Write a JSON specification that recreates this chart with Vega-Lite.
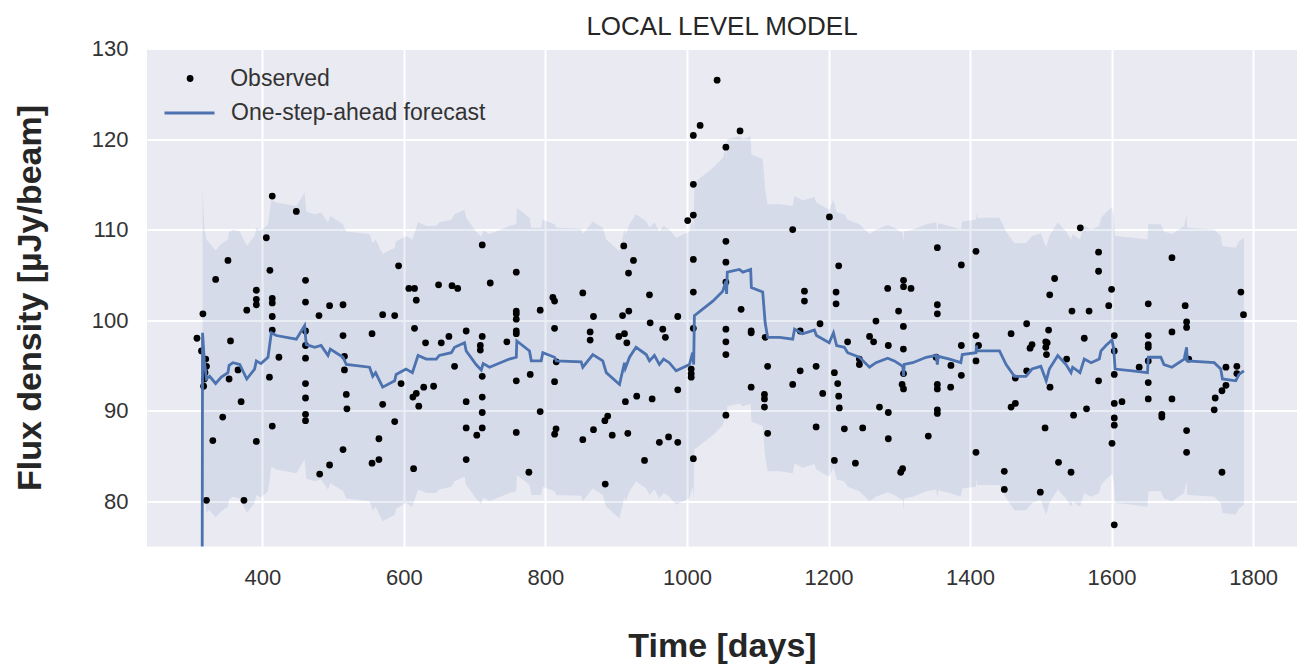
{
  "$schema": "https://vega.github.io/schema/vega-lite/v6.json",
  "autosize": {"type": "none"},
  "width": 1150,
  "height": 498,
  "padding": {"left": 147, "top": 48.5, "right": 6, "bottom": 119.5},
  "background": "white",
  "config": {
    "view": {"fill": "#EAEAF2", "stroke": null},
    "font": "Liberation Sans",
    "axis": {
      "domain": false, "ticks": false, "tickSize": 0,
      "gridColor": "white", "gridWidth": 2, "gridOpacity": 1,
      "labelFont": "Liberation Sans", "labelFontSize": 22, "labelColor": "#333333",
      "titleFont": "Liberation Sans", "titleFontSize": 34, "titleFontWeight": "bold", "titleColor": "#262626"
    },
    "legend": {
      "title": null, "orient": "none", "padding": 0, "rowPadding": 0, "labelLimit": 0,
      "labelFont": "Liberation Sans", "labelFontSize": 23, "labelColor": "#333333", "symbolOpacity": 1
    }
  },
  "title": {"text": "LOCAL LEVEL MODEL", "fontSize": 26, "fontWeight": "normal", "color": "#262626", "font": "Liberation Sans", "offset": -2, "frame": "group", "anchor": "middle"},
  "datasets": {
    "obs": [
{"t":307.6,"v":98.0},{"t":314,"v":96.6},{"t":316,"v":100.7},{"t":317,"v":92.7},{"t":318,"v":93.5},{"t":319,"v":94.2},{"t":320,"v":95.7},{"t":321,"v":94.9},{"t":321,"v":80.1},{"t":330,"v":86.7},{"t":334,"v":104.5},{"t":344,"v":89.3},{"t":351.4,"v":106.6},{"t":353,"v":93.5},{"t":355,"v":97.7},{"t":365.6,"v":94.5},{"t":370,"v":91.0},{"t":374,"v":80.1},{"t":378,"v":101.1},{"t":391.5,"v":103.3},{"t":391.5,"v":102.3},{"t":391.5,"v":101.7},{"t":391.5,"v":86.6},{"t":405.6,"v":109.1},{"t":410,"v":93.7},{"t":410.7,"v":105.5},{"t":414,"v":113.7},{"t":414,"v":102.4},{"t":414,"v":101.9},{"t":414,"v":100.4},{"t":414,"v":98.9},{"t":414,"v":88.3},{"t":423.4,"v":95.9},{"t":448,"v":112.0},{"t":461,"v":104.4},{"t":461,"v":102.0},{"t":461,"v":98.8},{"t":461,"v":97.2},{"t":461,"v":95.8},{"t":461,"v":93.0},{"t":461,"v":91.4},{"t":461,"v":89.6},{"t":461,"v":88.9},{"t":480,"v":100.5},{"t":481,"v":83.0},{"t":495,"v":101.6},{"t":495,"v":84.0},{"t":514,"v":101.7},{"t":514,"v":98.3},{"t":514,"v":85.7},{"t":516,"v":96.0},{"t":516,"v":94.5},{"t":518.6,"v":91.8},{"t":519.5,"v":90.2},{"t":555,"v":98.5},{"t":555,"v":84.2},{"t":564.7,"v":86.9},{"t":564.7,"v":84.6},{"t":570,"v":100.6},{"t":570,"v":90.7},{"t":587,"v":100.5},{"t":587,"v":88.8},{"t":592.5,"v":106.0},{"t":596,"v":93.0},{"t":607,"v":103.5},{"t":615,"v":103.5},{"t":617.5,"v":102.2},{"t":615,"v":99.1},{"t":612.7,"v":91.5},{"t":617.5,"v":91.9},{"t":621,"v":90.5},{"t":613.7,"v":83.6},{"t":628,"v":92.6},{"t":642,"v":92.7},{"t":630.6,"v":97.5},{"t":649,"v":103.9},{"t":652.8,"v":97.5},{"t":663.6,"v":98.2},{"t":668,"v":103.8},{"t":676,"v":103.5},{"t":671.6,"v":94.9},{"t":688,"v":98.8},{"t":688,"v":91.0},{"t":688,"v":88.1},{"t":688,"v":84.6},
{"t":703,"v":87.3},{"t":708,"v":97.2},{"t":708,"v":96.7},{"t":710.7,"v":108.3},{"t":710.7,"v":98.2},{"t":710.7,"v":93.8},{"t":710.7,"v":91.5},{"t":710.7,"v":89.8},{"t":710.7,"v":88.1},{"t":722,"v":104.1},{"t":745.5,"v":97.6},{"t":758.8,"v":105.3},{"t":758.8,"v":101.0},{"t":758.8,"v":100.7},{"t":758.8,"v":100.1},{"t":758.8,"v":98.8},{"t":758.8,"v":98.5},{"t":758.8,"v":93.3},{"t":758.8,"v":87.6},{"t":776.6,"v":83.2},{"t":778.5,"v":94.0},{"t":792.6,"v":101.1},{"t":792.6,"v":89.9},{"t":810.5,"v":102.5},{"t":812.9,"v":102.1},{"t":812.9,"v":99.1},{"t":815.3,"v":95.4},{"t":812.9,"v":93.2},{"t":815,"v":88.0},{"t":813,"v":87.4},{"t":852.8,"v":103.0},{"t":852.8,"v":86.8},{"t":863.2,"v":98.7},{"t":863.2,"v":97.8},{"t":867.9,"v":100.4},{"t":867.9,"v":87.9},{"t":884,"v":88.9},{"t":888,"v":89.4},{"t":894.4,"v":87.3},{"t":884.5,"v":81.9},{"t":903.7,"v":98.2},{"t":909,"v":100.5},{"t":910.7,"v":108.2},{"t":911.7,"v":98.5},{"t":913,"v":91.0},{"t":915,"v":97.5},{"t":916.4,"v":87.5},{"t":917.4,"v":105.2},{"t":917.8,"v":101.0},{"t":924.4,"v":106.6},{"t":929,"v":91.6},{"t":940,"v":84.5},{"t":947,"v":102.8},{"t":948,"v":99.7},{"t":950.8,"v":91.3},{"t":961,"v":86.5},{"t":965.8,"v":99.0},{"t":969.5,"v":98.1},{"t":974,"v":87.1},{"t":987,"v":100.4},{"t":987,"v":92.3},{"t":987,"v":86.5},{"t":1001,"v":111.0},{"t":1006,"v":94.6},{"t":1006,"v":94.1},{"t":1006,"v":93.7},{"t":1009,"v":120.4},{"t":1009,"v":115.0},{"t":1009,"v":111.6},{"t":1009,"v":106.7},{"t":1009,"v":103.1},{"t":1009,"v":99.1},{"t":1009,"v":84.7},{"t":1018.6,"v":121.5},{"t":1042.6,"v":126.5},{"t":1055,"v":119.1},{"t":1055,"v":108.7},{"t":1055,"v":106.4},{"t":1055,"v":104.2},{"t":1055,"v":99.0},{"t":1055,"v":97.6},{"t":1055,"v":96.2},{"t":1055,"v":89.5},{"t":1075,"v":120.9},{"t":1076.5,"v":101.2},{"t":1090.7,"v":98.8},{"t":1090.7,"v":98.6},{"t":1090.7,"v":92.6},{"t":1110.5,"v":98.1},{"t":1109.5,"v":91.8},{"t":1109.5,"v":91.3},{"t":1109.5,"v":90.4},{"t":1114,"v":94.9},{"t":1114,"v":87.5},
{"t":1149.4,"v":110.0},{"t":1149.4,"v":92.9},{"t":1160,"v":98.8},{"t":1160,"v":94.4},{"t":1166,"v":103.2},{"t":1166,"v":102.1},{"t":1182.5,"v":94.9},{"t":1182.5,"v":88.2},{"t":1188,"v":99.6},{"t":1191.8,"v":91.9},{"t":1201.3,"v":111.4},{"t":1208.3,"v":94.2},{"t":1208.3,"v":84.5},{"t":1210.7,"v":103.1},{"t":1210.7,"v":101.8},{"t":1213,"v":93.0},{"t":1214.4,"v":106.0},{"t":1214.4,"v":91.6},{"t":1215.3,"v":90.3},{"t":1222.4,"v":88.0},{"t":1227,"v":97.6},{"t":1238,"v":84.2},{"t":1243.6,"v":95.7},{"t":1243.6,"v":95.1},{"t":1248.3,"v":88.1},{"t":1258,"v":98.2},{"t":1263.7,"v":97.6},{"t":1267,"v":99.9},{"t":1272,"v":90.4},{"t":1283.6,"v":103.5},{"t":1284.5,"v":97.2},{"t":1284.5,"v":89.8},{"t":1284.5,"v":86.9},{"t":1299,"v":101.0},{"t":1302,"v":83.2},{"t":1304.7,"v":83.6},{"t":1304,"v":92.9},{"t":1306,"v":92.4},{"t":1306,"v":94.1},{"t":1305.8,"v":99.3},{"t":1305.8,"v":96.8},{"t":1306,"v":104.4},{"t":1306,"v":103.7},{"t":1316.6,"v":103.5},{"t":1341,"v":87.2},{"t":1352,"v":95.9},{"t":1353.8,"v":108.0},{"t":1353.8,"v":101.7},{"t":1353.8,"v":100.7},{"t":1353.8,"v":92.9},{"t":1353.8,"v":92.4},{"t":1353.8,"v":90.1},{"t":1353.8,"v":89.7},{"t":1372.6,"v":92.6},{"t":1373,"v":95.0},{"t":1387.7,"v":106.1},{"t":1387.7,"v":97.2},{"t":1387.7,"v":93.9},{"t":1408.4,"v":107.6},{"t":1408.4,"v":98.3},{"t":1408.4,"v":95.5},{"t":1408.4,"v":85.4},{"t":1412,"v":97.2},{"t":1448.4,"v":83.3},{"t":1448.4,"v":81.3},{"t":1458,"v":98.5},{"t":1458,"v":90.4},{"t":1464,"v":93.6},{"t":1464,"v":90.8},{"t":1480,"v":99.6},{"t":1480,"v":94.4},{"t":1484.8,"v":96.9},{"t":1487.6,"v":97.3},{"t":1499.3,"v":81.0},{"t":1506,"v":88.1},{"t":1507,"v":97.6},{"t":1509,"v":97.5},{"t":1507,"v":97.0},{"t":1508,"v":96.2},{"t":1511,"v":98.9},{"t":1512.6,"v":102.8},{"t":1513,"v":92.6},{"t":1519.5,"v":104.6},{"t":1525,"v":84.3},{"t":1536.5,"v":95.7},{"t":1542.7,"v":83.2},{"t":1544,"v":101.0},{"t":1546.3,"v":89.5},{"t":1555.8,"v":110.2},{"t":1561.4,"v":98.0},{"t":1564.6,"v":90.2},{"t":1568.2,"v":101.0},{"t":1581.6,"v":107.5},{"t":1581.6,"v":105.4},{"t":1581.6,"v":93.3},{"t":1596,"v":101.6},{"t":1600,"v":103.4},{"t":1600.6,"v":86.4},
{"t":1603.8,"v":98.3},{"t":1603.8,"v":96.6},{"t":1603.8,"v":94.0},{"t":1603.8,"v":90.8},{"t":1603.8,"v":89.2},{"t":1603.8,"v":88.4},{"t":1603.8,"v":77.4},{"t":1614.7,"v":91.0},{"t":1639,"v":94.8},{"t":1651.8,"v":101.8},{"t":1651.8,"v":98.3},{"t":1651.8,"v":97.3},{"t":1651.8,"v":97.0},{"t":1651.8,"v":95.5},{"t":1651.8,"v":93.1},{"t":1651.8,"v":91.3},{"t":1671,"v":89.6},{"t":1671,"v":89.3},{"t":1685.3,"v":106.9},{"t":1685.3,"v":98.7},{"t":1685.3,"v":91.3},{"t":1704,"v":101.6},{"t":1706,"v":99.8},{"t":1706,"v":99.2},{"t":1706,"v":87.8},{"t":1706,"v":85.4},{"t":1709,"v":95.7},{"t":1745,"v":90.1},{"t":1746.4,"v":91.4},{"t":1756,"v":92.2},{"t":1756,"v":83.2},{"t":1761.6,"v":92.8},{"t":1761.6,"v":94.8},{"t":1777,"v":94.9},{"t":1777,"v":94.1},{"t":1782.7,"v":103.1},{"t":1786.4,"v":100.6}
    ],
    "fc": [
{"d":313.5,"f":0},
{"d":315.5,"f":98.6,"lo":82.5,"hi":114.7},{"d":318,"f":95.5,"lo":80.7,"hi":110.2},{"d":321,"f":93.5,"lo":78.8,"hi":108.9},{"d":325.5,"f":93.8,"lo":79.0,"hi":108.5},{"d":334,"f":93.0,"lo":78.2,"hi":107.7},{"d":342,"f":93.7,"lo":78.9,"hi":108.4},{"d":351.4,"f":94.2,"lo":79.4,"hi":108.9},{"d":353,"f":95.0,"lo":80.2,"hi":109.7},{"d":358.5,"f":95.3,"lo":80.5,"hi":110.0},{"d":368,"f":95.1,"lo":80.3,"hi":109.8},{"d":378,"f":93.5,"lo":78.7,"hi":108.2},{"d":389,"f":94.6,"lo":79.8,"hi":109.3},{"d":391.5,"f":95.5,"lo":80.7,"hi":110.2},{"d":398,"f":95.2,"lo":80.4,"hi":109.9},{"d":408,"f":95.9,"lo":81.1,"hi":110.6},{"d":412.7,"f":98.6,"lo":83.8,"hi":113.3},{"d":419.7,"f":98.3,"lo":83.5,"hi":113.0},{"d":448,"f":97.9,"lo":83.1,"hi":112.6},{"d":459.7,"f":99.4,"lo":84.6,"hi":114.1},{"d":462,"f":97.3,"lo":82.5,"hi":112.0},{"d":474,"f":97.0,"lo":82.2,"hi":111.7},{"d":483,"f":97.2,"lo":82.4,"hi":111.9},{"d":492.7,"f":96.1,"lo":81.3,"hi":110.8},{"d":496,"f":96.8,"lo":82.0,"hi":111.5},{"d":514,"f":95.9,"lo":81.1,"hi":110.6},{"d":518.6,"f":95.1,"lo":80.3,"hi":109.8},{"d":551.5,"f":94.8,"lo":80.0,"hi":109.5},{"d":556,"f":93.8,"lo":79.0,"hi":108.5},{"d":560,"f":94.2,"lo":79.4,"hi":108.9},{"d":570,"f":92.6,"lo":77.8,"hi":107.3},{"d":587,"f":93.3,"lo":78.5,"hi":108.0},{"d":589,"f":94.0,"lo":79.2,"hi":108.7},{"d":603,"f":94.6,"lo":79.8,"hi":109.3},{"d":612,"f":94.2,"lo":79.4,"hi":108.9},{"d":620,"f":96.1,"lo":81.3,"hi":110.8},{"d":631.6,"f":95.7,"lo":80.9,"hi":110.4},{"d":645.8,"f":95.7,"lo":80.9,"hi":110.4},{"d":650,"f":96.1,"lo":81.3,"hi":110.8},{"d":667,"f":96.4,"lo":81.6,"hi":111.1},{"d":671.6,"f":97.0,"lo":82.2,"hi":111.7},{"d":685.7,"f":97.5,"lo":82.7,"hi":112.2},{"d":688,"f":96.6,"lo":81.8,"hi":111.3},{"d":702,"f":95.1,"lo":80.3,"hi":109.8},{"d":709.3,"f":94.5,"lo":79.7,"hi":109.2},{"d":712,"f":95.2,"lo":80.4,"hi":109.9},{"d":721,"f":94.8,"lo":80.0,"hi":109.5},{"d":749,"f":95.7,"lo":80.9,"hi":110.4},{"d":758.8,"f":95.9,"lo":81.1,"hi":110.6},{"d":759.6,"f":97.7,"lo":82.9,"hi":112.4},{"d":777.5,"f":96.6,"lo":81.8,"hi":111.3},{"d":780,"f":95.5,"lo":80.7,"hi":110.2},{"d":794,"f":95.5,"lo":80.7,"hi":110.2},{"d":796.3,"f":96.4,"lo":81.6,"hi":111.1},{"d":812.9,"f":95.9,"lo":81.1,"hi":110.6},{"d":815.3,"f":95.5,"lo":80.7,"hi":110.2},{"d":850.5,"f":95.4,"lo":80.6,"hi":110.1},{"d":852.8,"f":94.8,"lo":80.0,"hi":109.5},{"d":867,"f":96.2,"lo":81.4,"hi":110.9},{"d":881,"f":95.5,"lo":80.7,"hi":110.2},{"d":886,"f":94.2,"lo":79.4,"hi":108.9},{"d":904.7,"f":92.9,"lo":78.1,"hi":107.6},{"d":911.7,"f":95.3,"lo":80.5,"hi":110.0},{"d":913,"f":94.7,"lo":79.9,"hi":109.4},{"d":918.8,"f":95.9,"lo":81.1,"hi":110.6},{"d":928,"f":97.0,"lo":82.2,"hi":111.7},{"d":942.4,"f":96.2,"lo":81.4,"hi":110.9},{"d":947,"f":95.5,"lo":80.7,"hi":110.2},{"d":954,"f":96.1,"lo":81.3,"hi":110.8},{"d":961,"f":95.1,"lo":80.3,"hi":109.8},{"d":967,"f":95.7,"lo":80.9,"hi":110.4},{"d":975,"f":95.3,"lo":80.5,"hi":110.0},{"d":984.7,"f":94.4,"lo":79.6,"hi":109.1},{"d":1003.5,"f":95.1,"lo":80.3,"hi":109.8},{"d":1008,"f":96.4,"lo":81.6,"hi":111.1},{"d":1009.5,"f":95.1,"lo":80.3,"hi":109.8},{"d":1010.5,"f":100.5,"lo":85.7,"hi":115.2},{"d":1036.5,"f":102.1,"lo":87.3,"hi":116.8},{"d":1050.6,"f":103.2,"lo":88.4,"hi":117.9},{"d":1055,"f":104.3,"lo":89.5,"hi":119.0},{"d":1056,"f":102.9,"lo":88.1,"hi":117.6},{"d":1057,"f":105.3,"lo":90.5,"hi":120.0},{"d":1074,"f":105.6,"lo":90.8,"hi":120.3},{"d":1079,"f":105.3,"lo":90.5,"hi":120.0},{"d":1090,"f":105.6,"lo":90.8,"hi":120.3},{"d":1091,"f":103.6,"lo":88.8,"hi":118.3},{"d":1107,"f":103.1,"lo":88.3,"hi":117.8},{"d":1110.5,"f":99.7,"lo":84.9,"hi":114.4},{"d":1114,"f":98.1,"lo":83.3,"hi":112.8},{"d":1131,"f":98.1,"lo":83.3,"hi":112.8},{"d":1149.4,"f":97.9,"lo":83.1,"hi":112.6},{"d":1152,"f":99.0,"lo":84.2,"hi":113.7},{"d":1163.4,"f":98.5,"lo":83.7,"hi":113.2},{"d":1180,"f":98.9,"lo":84.1,"hi":113.6},{"d":1183,"f":98.3,"lo":83.5,"hi":113.0},{"d":1201,"f":97.5,"lo":82.7,"hi":112.2},{"d":1207,"f":98.6,"lo":83.8,"hi":113.3},{"d":1211.5,"f":97.2,"lo":82.4,"hi":111.9},{"d":1222.4,"f":97.0,"lo":82.2,"hi":111.7},{"d":1227,"f":96.4,"lo":81.6,"hi":111.1},{"d":1243.6,"f":95.9,"lo":81.1,"hi":110.6},{"d":1258,"f":94.8,"lo":80.0,"hi":109.5},{"d":1267,"f":95.3,"lo":80.5,"hi":110.0},{"d":1283.6,"f":95.8,"lo":81.0,"hi":110.5},{"d":1293,"f":95.5,"lo":80.7,"hi":110.2},{"d":1305,"f":94.9,"lo":80.1,"hi":109.6},{"d":1306,"f":93.8,"lo":79.0,"hi":108.5},{"d":1307,"f":95.1,"lo":80.3,"hi":109.8},{"d":1319,"f":95.3,"lo":80.5,"hi":110.0},{"d":1338,"f":95.9,"lo":81.1,"hi":110.6},{"d":1352,"f":96.1,"lo":81.3,"hi":110.8},{"d":1353.8,"f":95.1,"lo":80.3,"hi":109.8},{"d":1355,"f":96.0,"lo":81.2,"hi":110.7},{"d":1371,"f":95.7,"lo":80.9,"hi":110.4},{"d":1387,"f":95.3,"lo":80.5,"hi":110.0},{"d":1389,"f":96.2,"lo":81.4,"hi":110.9},{"d":1408.4,"f":96.4,"lo":81.6,"hi":111.1},{"d":1409,"f":97.2,"lo":82.4,"hi":111.9},{"d":1410,"f":96.6,"lo":81.8,"hi":111.3},{"d":1441.6,"f":96.6,"lo":81.8,"hi":111.3},{"d":1451,"f":95.1,"lo":80.3,"hi":109.8},{"d":1462.7,"f":93.8,"lo":79.0,"hi":108.5},{"d":1479,"f":93.8,"lo":79.0,"hi":108.5},{"d":1487.6,"f":94.6,"lo":79.8,"hi":109.3},{"d":1500,"f":94.9,"lo":80.1,"hi":109.6},{"d":1507.6,"f":93.3,"lo":78.5,"hi":108.0},{"d":1512,"f":94.6,"lo":79.8,"hi":109.3},{"d":1524,"f":96.1,"lo":81.3,"hi":110.8},{"d":1535.6,"f":95.1,"lo":80.3,"hi":109.8},{"d":1542.7,"f":94.2,"lo":79.4,"hi":108.9},{"d":1545,"f":94.8,"lo":80.0,"hi":109.5},{"d":1555.3,"f":94.2,"lo":79.4,"hi":108.9},{"d":1561.4,"f":95.7,"lo":80.9,"hi":110.4},{"d":1571,"f":95.3,"lo":80.5,"hi":110.0},{"d":1582.6,"f":95.7,"lo":80.9,"hi":110.4},{"d":1585,"f":96.6,"lo":81.8,"hi":111.3},{"d":1592,"f":97.2,"lo":82.4,"hi":111.9},{"d":1600.6,"f":97.8,"lo":83.0,"hi":112.5},{"d":1603,"f":96.8,"lo":82.0,"hi":111.5},{"d":1605,"f":94.6,"lo":79.8,"hi":109.3},{"d":1629.6,"f":94.4,"lo":79.6,"hi":109.1},{"d":1650.7,"f":94.2,"lo":79.4,"hi":108.9},{"d":1652,"f":95.9,"lo":81.1,"hi":110.6},{"d":1669.6,"f":95.9,"lo":81.1,"hi":110.6},{"d":1674,"f":95.1,"lo":80.3,"hi":109.8},{"d":1685.3,"f":94.8,"lo":80.0,"hi":109.5},{"d":1702.6,"f":95.7,"lo":80.9,"hi":110.4},{"d":1706,"f":97.0,"lo":82.2,"hi":111.7},{"d":1707,"f":95.5,"lo":80.7,"hi":110.2},{"d":1745,"f":95.3,"lo":80.5,"hi":110.0},{"d":1754.3,"f":94.6,"lo":79.8,"hi":109.3},{"d":1756.6,"f":93.5,"lo":78.7,"hi":108.2},{"d":1775.5,"f":93.3,"lo":78.5,"hi":108.0},{"d":1780,"f":94.0,"lo":79.2,"hi":108.7},{"d":1787,"f":94.4,"lo":79.6,"hi":109.1}
    ]
  },
  "layer": [
    {
      "data": {"name": "fc"},
      "mark": {"type": "area", "color": "#4C72B0", "opacity": 0.12, "clip": true},
      "encoding": {
        "x": {"field": "d", "type": "quantitative", "title": "Time [days]",
              "scale": {"domain": [237, 1862], "nice": false, "zero": false},
              "axis": {"values": [400, 600, 800, 1000, 1200, 1400, 1600, 1800], "format": "d", "labelPadding": 21, "titlePadding": 41}},
        "y": {"field": "lo", "type": "quantitative", "title": "Flux density [µJy/beam]",
              "scale": {"domain": [75, 130], "nice": false, "zero": false},
              "axis": {"values": [80, 90, 100, 110, 120, 130], "format": "d", "labelPadding": 19, "titlePadding": 44}},
        "y2": {"field": "hi"}
      }
    },
    {
      "data": {"name": "obs"},
      "mark": {"type": "point", "filled": true, "size": 46, "opacity": 1, "clip": true},
      "encoding": {
        "x": {"field": "t", "type": "quantitative", "title": "Time [days]"},
        "y": {"field": "v", "type": "quantitative", "title": "Flux density [µJy/beam]"},
        "fill": {"datum": "Observed", "type": "nominal",
                 "scale": {"domain": ["Observed"], "range": ["black"]},
                 "legend": {"legendX": 31.6, "legendY": 18.5, "symbolSize": 46, "symbolType": "circle", "labelOffset": 28.6, "symbolStrokeWidth": 0}}
      }
    },
    {
      "data": {"name": "fc"},
      "mark": {"type": "line", "strokeWidth": 2.8, "clip": true},
      "encoding": {
        "x": {"field": "d", "type": "quantitative", "title": "Time [days]"},
        "y": {"field": "f", "type": "quantitative", "title": "Flux density [µJy/beam]"},
        "stroke": {"datum": "One-step-ahead forecast", "type": "nominal",
                   "scale": {"domain": ["One-step-ahead forecast"], "range": ["#4C72B0"]},
                   "legend": {"legendX": 16, "legendY": 38, "symbolSize": 2500, "symbolType": "stroke", "symbolStrokeWidth": 2.8, "labelOffset": 15}}
      }
    }
  ]
}
